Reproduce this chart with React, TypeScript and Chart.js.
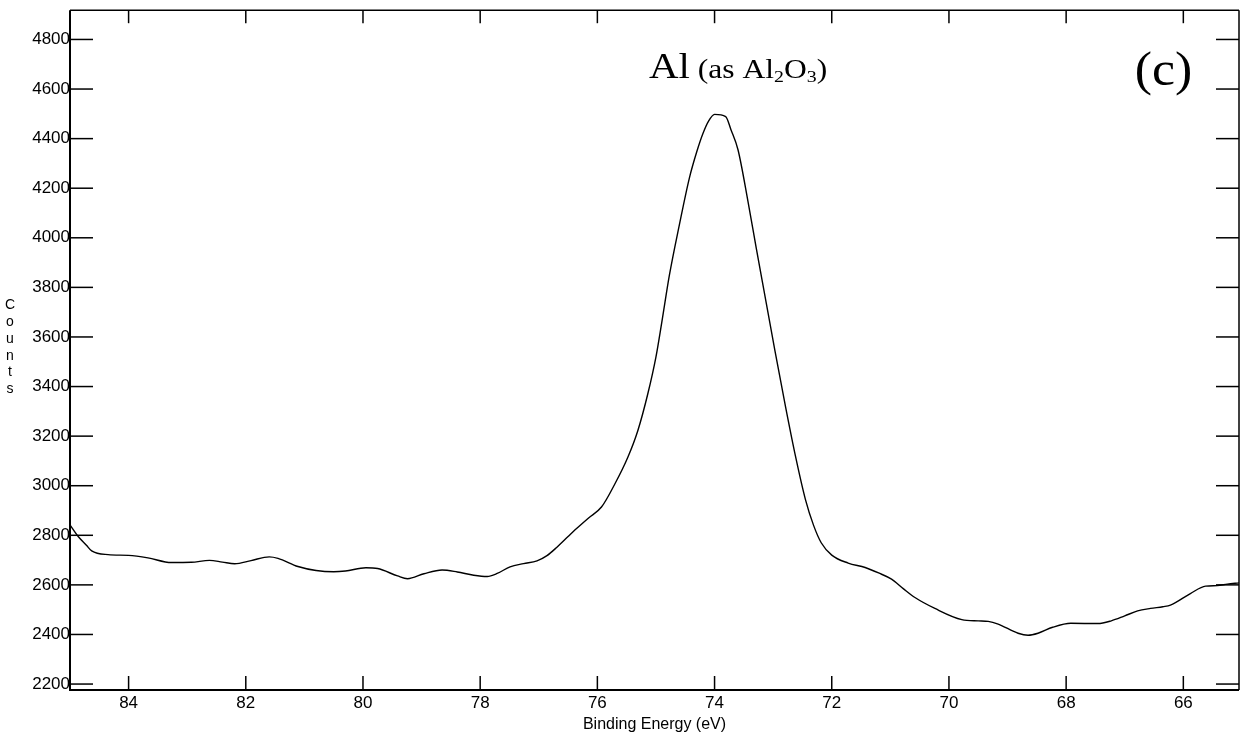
import React, { useEffect, useRef } from "react";
import { Chart, registerables } from "chart.js";

Chart.register(...registerables);

// Binding energy (eV), descending
const energies = [
  85.0, 84.86, 84.72, 84.63, 84.35, 84.0, 83.67, 83.27, 82.93, 82.62, 82.4, 82.19, 81.91, 81.6,
  81.45, 81.11, 80.8, 80.5, 80.3, 79.95, 79.75, 79.41, 79.24, 78.96, 78.65, 78.39, 78.11, 77.88,
  77.71, 77.49, 77.26, 77.03, 76.86, 76.69, 76.5, 76.38, 76.15, 75.93, 75.7, 75.48, 75.31, 75.14,
  75.0, 74.9, 74.77, 74.6, 74.43, 74.3, 74.2, 74.1, 74.0, 73.81, 73.72, 73.6, 73.43, 73.29,
  73.12, 72.97, 72.79, 72.62, 72.45, 72.31, 72.18, 72.0, 71.72, 71.43, 71.2, 70.98, 70.78, 70.58,
  70.24, 69.78, 69.5, 69.33, 69.16, 68.82, 68.65, 68.48, 68.23, 67.92, 67.46, 67.23, 67.0, 66.78,
  66.56, 66.35, 66.22, 65.88, 65.62, 65.42, 65.25, 65.05,
];

// Counts
const counts = [
  2842, 2795, 2760, 2737, 2722, 2719, 2709, 2690, 2691, 2699, 2692, 2685, 2698, 2713,
  2707, 2674, 2658, 2653, 2656, 2669, 2666, 2636, 2625, 2645, 2660, 2652, 2639, 2634,
  2646, 2673, 2686, 2697, 2718, 2752, 2795, 2822, 2870, 2914, 3008, 3115, 3222, 3370,
  3520, 3660, 3850, 4053, 4241, 4350, 4420, 4472, 4498, 4489, 4436, 4355, 4147, 3960,
  3740, 3545, 3320, 3120, 2945, 2840, 2770, 2720, 2688, 2670, 2648, 2623, 2585, 2549,
  2505, 2460, 2455, 2453, 2442, 2405, 2397, 2405, 2429, 2445, 2444, 2455, 2475, 2495,
  2505, 2512, 2518, 2565, 2595, 2597, 2603, 2608,
];

const xTickValues = [84, 82, 80, 78, 76, 74, 72, 70, 68, 66];
const yTickValues = [2200, 2400, 2600, 2800, 3000, 3200, 3400, 3600, 3800, 4000, 4200, 4400, 4600, 4800];

const xRange = [65.05, 85.0];
const yRange = [2176, 4918];

const xTitle = "Binding Energy (eV)";
const yTitle = "Counts";
const panelText = "(c)";
// annotation anchors in data coordinates [energy, counts]
const peakLabelAt = [75.12, 4643];
const panelLabelAt = [66.83, 4618];

const SANS = '"Liberation Sans", Arial, sans-serif';
const SERIF = '"Liberation Serif", "Times New Roman", serif';

type Seg = { t: string; size: number; dy: number };

function drawSegments(ctx: CanvasRenderingContext2D, segs: Seg[], x: number, y: number, sx: number) {
  ctx.save();
  ctx.translate(x, y);
  ctx.scale(sx, 1);
  ctx.textAlign = "left";
  ctx.textBaseline = "alphabetic";
  let cx = 0;
  for (const s of segs) {
    ctx.font = `${s.size}px ${SERIF}`;
    ctx.fillText(s.t, cx, s.dy);
    cx += ctx.measureText(s.t).width;
  }
  ctx.restore();
}

const framePlugin = {
  id: "xpsFrame",
  afterDraw(chart: any) {
    const { ctx, chartArea, scales } = chart;
    const { left, right, top, bottom } = chartArea;
    const xs = scales.x;
    const ys = scales.y;
    const line = (x1: number, y1: number, x2: number, y2: number) => {
      ctx.beginPath();
      ctx.moveTo(x1, y1);
      ctx.lineTo(x2, y2);
      ctx.stroke();
    };
    ctx.save();
    ctx.strokeStyle = "#000";
    ctx.fillStyle = "#000";
    ctx.lineWidth = 1.5;
    for (const v of xTickValues) {
      const px = xs.getPixelForValue(v);
      line(px, bottom, px, bottom - 14);
      line(px, top, px, top + 13);
    }
    for (const v of yTickValues) {
      const py = ys.getPixelForValue(v);
      line(left, py, left + 23, py);
      line(right, py, right - 23, py);
    }
    ctx.lineWidth = 2;
    line(left, top, left, bottom + 1);
    line(left - 1, bottom, right, bottom);
    ctx.lineWidth = 1.5;
    line(left, top, right, top);
    line(right, top, right, bottom);

    // stacked y title
    ctx.font = `14px ${SANS}`;
    ctx.textAlign = "center";
    ctx.textBaseline = "alphabetic";
    const mid = (top + bottom) / 2;
    yTitle.split("").forEach((ch, i) => {
      ctx.fillText(ch, left - 60, mid - 41 + i * 16.8);
    });

    // peak annotation
    const px = xs.getPixelForValue(peakLabelAt[0]);
    const py = ys.getPixelForValue(peakLabelAt[1]);
    drawSegments(
      ctx,
      [
        { t: "Al", size: 35, dy: 0 },
        { t: " (as Al", size: 27, dy: 0 },
        { t: "2", size: 17, dy: 4 },
        { t: "O", size: 27, dy: 0 },
        { t: "3", size: 17, dy: 4 },
        { t: ")", size: 27, dy: 0 },
      ],
      px,
      py,
      1.17
    );

    // panel label
    const cx = xs.getPixelForValue(panelLabelAt[0]);
    const cy = ys.getPixelForValue(panelLabelAt[1]);
    drawSegments(ctx, [{ t: panelText, size: 48, dy: 0 }], cx, cy, 1.08);
    ctx.restore();
  },
};

export default function App() {
  const ref = useRef<HTMLCanvasElement | null>(null);
  useEffect(() => {
    if (!ref.current) return;
    const points = energies.map((e, i) => ({ x: e, y: counts[i] }));
    const chart = new Chart(ref.current, {
      type: "line",
      data: {
        datasets: [
          {
            data: points,
            borderColor: "#000",
            borderWidth: 1.4,
            pointRadius: 0,
            fill: false,
            cubicInterpolationMode: "monotone",
          },
        ],
      },
      options: {
        responsive: false,
        animation: false,
        layout: { padding: { top: 8, right: 8, left: 0, bottom: 0 } },
        plugins: { legend: { display: false }, tooltip: { enabled: false } },
        scales: {
          x: {
            type: "linear",
            reverse: true,
            min: xRange[0],
            max: xRange[1],
            afterBuildTicks: (s: any) => {
              s.ticks = xTickValues.map((v) => ({ value: v }));
            },
            afterFit: (s: any) => {
              s.height = 52;
            },
            grid: { display: false, drawTicks: false },
            border: { display: false },
            ticks: {
              color: "#000",
              font: { family: SANS, size: 17 },
              padding: 3,
              maxRotation: 0,
              autoSkip: false,
              callback: (v: any) => String(v),
            },
            title: {
              display: true,
              text: xTitle,
              color: "#000",
              font: { family: SANS, size: 16 },
              padding: { top: 0, bottom: 8 },
            },
          },
          y: {
            type: "linear",
            min: yRange[0],
            max: yRange[1],
            afterBuildTicks: (s: any) => {
              s.ticks = yTickValues.map((v) => ({ value: v }));
            },
            afterFit: (s: any) => {
              s.width = 70;
            },
            grid: { display: false, drawTicks: false },
            border: { display: false },
            ticks: {
              color: "#000",
              font: { family: SANS, size: 17 },
              padding: 0,
              autoSkip: false,
              callback: (v: any) => String(v),
            },
          },
        },
      },
      plugins: [framePlugin],
    } as any);
    return () => chart.destroy();
  }, []);
  return (
    <div style={{ position: "fixed", left: 0, top: 0, width: 1247, height: 742, background: "#fff" }}>
      <canvas ref={ref} width={1247} height={742} style={{ display: "block" }} />
    </div>
  );
}
